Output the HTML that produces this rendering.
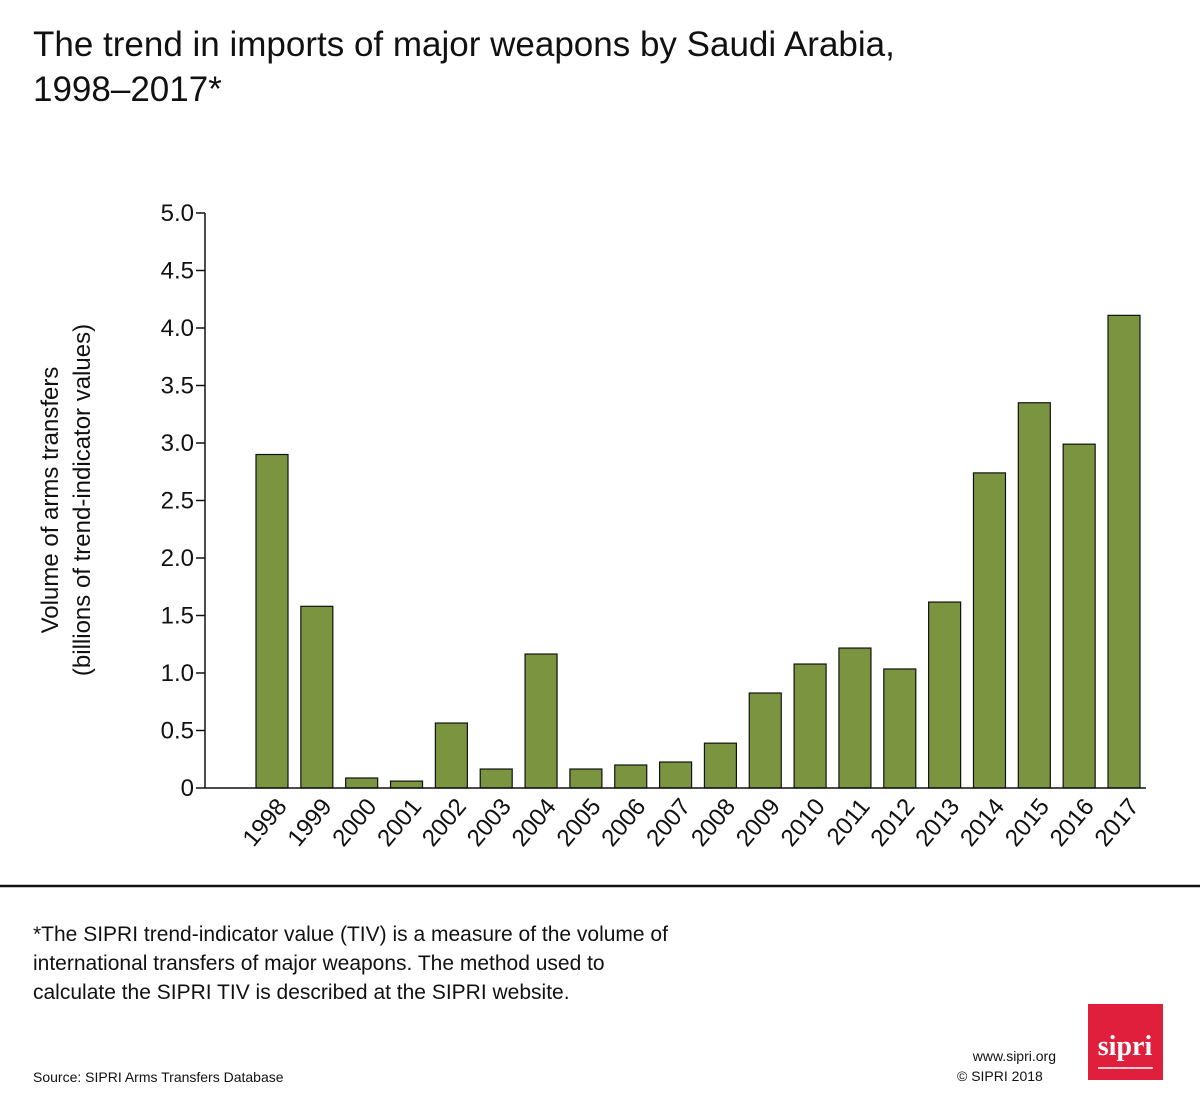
<!DOCTYPE html>
<html><head><meta charset="utf-8"><style>
body{margin:0;background:#fff;width:1200px;height:1107px;overflow:hidden;font-family:"Liberation Sans",sans-serif}
svg{display:block}
</style></head><body>
<svg id="c" width="1200" height="1107">
<text x="33" y="56" font-size="35" fill="#111">The trend in imports of major weapons by Saudi Arabia,</text>
<text x="33" y="101" font-size="35" fill="#111">1998–2017*</text>
<g id="yaxis"></g>
<g id="bars"></g>
<g id="xaxis"></g>
<text transform="translate(58,500) rotate(-90)" text-anchor="middle" font-size="24" fill="#111">Volume of arms transfers</text>
<text transform="translate(90,500) rotate(-90)" text-anchor="middle" font-size="24" fill="#111">(billions of trend-indicator values)</text>
<line x1="0" y1="886" x2="1200" y2="886" stroke="#111" stroke-width="2.5"/>
<text font-size="21" fill="#111"><tspan x="33" y="941">*The SIPRI trend-indicator value (TIV) is a measure of the volume of</tspan><tspan x="33" y="970">international transfers of major weapons. The method used to</tspan><tspan x="33" y="999">calculate the SIPRI TIV is described at the SIPRI website.</tspan></text>
<text x="33" y="1082" font-size="14" fill="#111">Source: SIPRI Arms Transfers Database</text>
<text x="1056" y="1061" text-anchor="end" font-size="14" fill="#111">www.sipri.org</text>
<text x="957" y="1081" font-size="14" fill="#111">© SIPRI 2018</text>
<rect x="1088" y="1004" width="75" height="76" fill="#e01f3d"/>
<text x="1125" y="1055" text-anchor="middle" font-size="28" font-weight="bold" font-family="Liberation Serif,serif" fill="#fff">sipri</text>
<line x1="1098" y1="1068" x2="1153" y2="1068" stroke="#fff" stroke-width="1.5"/>
</svg>
<script>
const years=["1998","1999","2000","2001","2002","2003","2004","2005","2006","2007","2008","2009","2010","2011","2012","2013","2014","2015","2016","2017"];
const values=[2.90,1.58,0.087,0.06,0.565,0.165,1.165,0.165,0.2,0.226,0.39,0.826,1.078,1.217,1.035,1.617,2.74,3.35,2.99,4.11];
const yTicks=[0,0.5,1,1.5,2,2.5,3,3.5,4,4.5,5];
const yTickLabels=["0","0.5","1.0","1.5","2.0","2.5","3.0","3.5","4.0","4.5","5.0"];
const NS="http://www.w3.org/2000/svg";
const y0=788,y5=213,ax=205,axEnd=1146;
const yS=v=>y0-(y0-y5)*v/5;
const xC=i=>272+i*(1124-272)/(years.length-1);
const bw=32;
function mk(tag,attrs,parent){const e=document.createElementNS(NS,tag);for(const k in attrs)e.setAttribute(k,attrs[k]);parent.appendChild(e);return e;}
const yg=document.getElementById('yaxis'),bg=document.getElementById('bars'),xg=document.getElementById('xaxis');
let l=mk('line',{x1:ax,y1:y5,x2:ax,y2:y0,stroke:'#111','stroke-width':1.5},yg);


yTicks.forEach((t,i)=>{
 const tk=mk('line',{x1:ax-9,y1:yS(t),x2:ax,y2:yS(t),stroke:'#111','stroke-width':1.5},yg);
 
 
 const tx=mk('text',{x:ax-11,y:yS(t)+8,'text-anchor':'end','font-size':24,fill:'#111'},yg);
 tx.textContent=yTickLabels[i];
 
 
});
values.forEach((v,i)=>{
 const r=mk('rect',{x:xC(i)-bw/2,y:yS(v),width:bw,height:y0-yS(v),fill:'#7a9440',stroke:'#111','stroke-width':1.2},bg);
 
 
 const tx=mk('text',{transform:`translate(${xC(i)+16},${y0+19}) rotate(-50)`,'text-anchor':'end','font-size':24,fill:'#111'},xg);
 tx.textContent=years[i];
 
 
});
l=mk('line',{x1:ax,y1:y0,x2:axEnd,y2:y0,stroke:'#111','stroke-width':1.5},xg);


</script>
</body></html>
